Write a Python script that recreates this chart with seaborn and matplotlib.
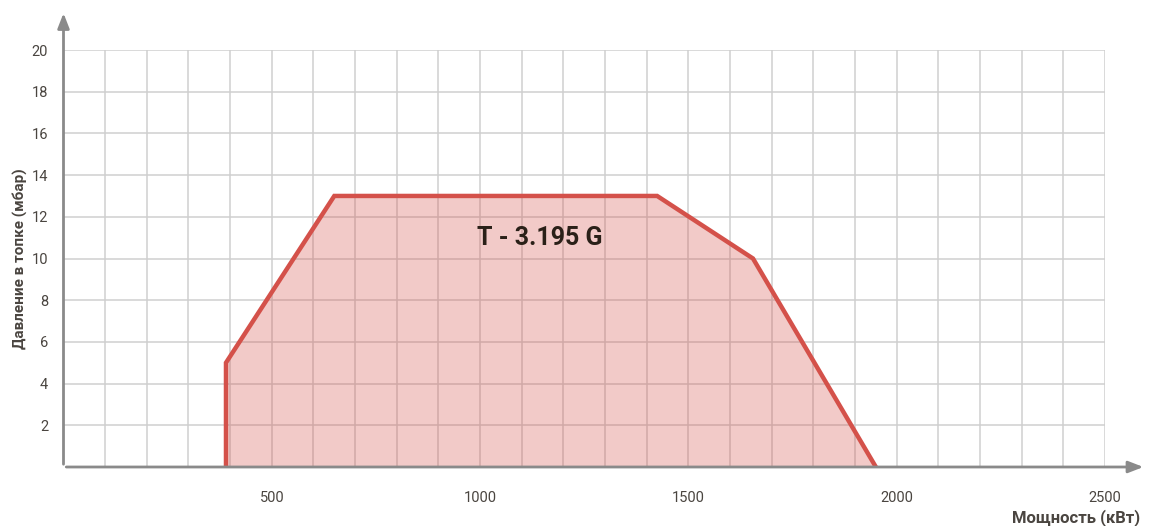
"""Рабочее поле горелки T - 3.195 G."""

import matplotlib.pyplot as plt
import numpy as np
import seaborn as sns

# контур рабочего поля
power_kw = [390, 390, 650, 1425, 1655, 1950]
pressure_mbar = [0, 5, 13, 13, 10, 0]

x_grid = np.arange(100, 2501, 100)
y_ticks = np.arange(2, 21, 2)
x_labels = [500, 1000, 1500, 2000, 2500]

LINE = "#d4514a"
AXIS = "#8a8a8a"
TEXT = "#4a4540"

sns.set_style("white")
plt.rcParams["font.family"] = ["Roboto", "DejaVu Sans"]

fig = plt.figure(figsize=(11.49, 5.26), dpi=100)
ax = fig.add_axes([63.5 / 1149, 1 - 467 / 526, (1105 - 63.5) / 1149, (467 - 50) / 526])

# сетка
for x in x_grid:
    ax.axvline(x, color="#cfcfcf", lw=1.1, zorder=0)
for y in y_ticks:
    ax.axhline(y, color="#cfcfcf", lw=1.1, zorder=0)

ax.fill_between(power_kw, pressure_mbar, 0, color=LINE, alpha=0.3, lw=0, zorder=1)
sns.lineplot(x=power_kw, y=pressure_mbar, sort=False, estimator=None, color=LINE,
             lw=3.2, solid_joinstyle="miter", ax=ax, zorder=3)
ax.text(1143, 11.0, "T - 3.195 G", ha="center", va="center", fontsize=18,
        fontweight="bold", color="#2a2018", zorder=4)

ax.set_xlim(0, 2500)
ax.set_ylim(0, 20)
for side in ["top", "right", "left", "bottom"]:
    ax.spines[side].set_visible(False)

# оси со стрелками
ax.annotate("", xy=(1.0395, 0), xytext=(0, 0), xycoords="axes fraction",
            arrowprops=dict(arrowstyle="-|>,head_length=0.9,head_width=0.35",
                            color=AXIS, lw=2), annotation_clip=False)
ax.annotate("", xy=(0, 1.095), xytext=(0, 0), xycoords="axes fraction",
            arrowprops=dict(arrowstyle="-|>,head_length=0.9,head_width=0.35",
                            color=AXIS, lw=2), annotation_clip=False)

ax.set_xticks(x_grid)
ax.set_xticklabels([str(x) if x in x_labels else "" for x in x_grid])
ax.tick_params(axis="x", length=10, width=1.8, color=AXIS, direction="out",
               pad=7, labelsize=10.5, labelcolor=TEXT)
ax.set_yticks(y_ticks)
ax.tick_params(axis="y", length=0, pad=11, labelsize=10.5, labelcolor=TEXT)

ax.set_ylabel("Давление в топке (мбар)", fontsize=11, fontweight="bold",
              color=TEXT, labelpad=3)
fig.text(1140 / 1149, 1 - 518 / 526, "Мощность (кВт)", ha="right", va="center",
         fontsize=12, fontweight="bold", color=TEXT)

fig.savefig("out.png", dpi=100)
